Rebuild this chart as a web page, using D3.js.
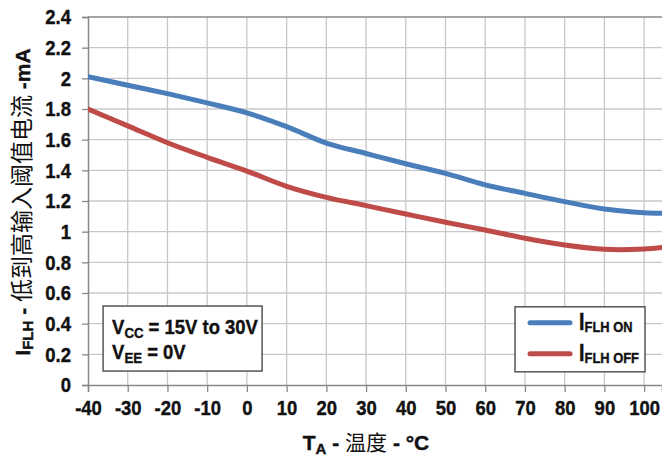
<!DOCTYPE html>
<html lang="zh">
<head>
<meta charset="UTF-8">
<title>IFLH vs TA</title>
<style>
  body { margin: 0; background: #fff; }
  svg { display: block; }
  .tick text, .lbl { font-family: "Liberation Sans", Arial, sans-serif; font-weight: bold; fill: #111; stroke: #111; stroke-width: 0.4px; }
  .tick text { font-size: 21px; }
  .cjk { font-family: "Noto Sans CJK SC", sans-serif; font-weight: normal; stroke-width: 0; }
</style>
</head>
<body>
<svg width="662" height="457"></svg>
<script src="https://d3js.org/d3.v7.min.js"></script>
<script>
  // temperature (°C)
  const temps = [-40, -30, -20, -10, 0, 10, 20, 30, 40, 50, 60, 70, 80, 90, 100, 105];
  // IFLH ON (mA)
  const iflhOn = [2.01, 1.955, 1.90, 1.84, 1.775, 1.685, 1.578, 1.51, 1.443, 1.38, 1.305, 1.25, 1.196, 1.148, 1.124, 1.12];
  // IFLH OFF (mA)
  const iflhOff = [1.80, 1.69, 1.58, 1.485, 1.395, 1.296, 1.224, 1.17, 1.115, 1.061, 1.011, 0.957, 0.913, 0.885, 0.887, 0.898];
  const xTicks = [-40, -30, -20, -10, 0, 10, 20, 30, 40, 50, 60, 70, 80, 90, 100];
  const yTicks = [0, 0.2, 0.4, 0.6, 0.8, 1, 1.2, 1.4, 1.6, 1.8, 2, 2.2, 2.4];

  const svg = d3.select("svg");
  const margin = {top: 17, right: 0, bottom: 72, left: 88};
  const width = 662 - margin.left - margin.right;
  const height = 457 - margin.top - margin.bottom;
  const g = svg.append("g").attr("transform", `translate(${margin.left},${margin.top})`);

  const x = d3.scaleLinear().domain([-40, 104.5]).range([0, width]);
  const y = d3.scaleLinear().domain([0, 2.4]).range([height, 0]);

  // squeeze text horizontally (reference uses a condensed face)
  function squeeze(sel, k) {
    sel.each(function() {
      const t = d3.select(this);
      const x0 = +(t.attr("x") || 0);
      t.attr("x", x0 / k).attr("transform", `scale(${k},1)`);
    });
  }

  // grid
  g.append("g").selectAll("line").data(xTicks.slice(1)).join("line")
    .attr("x1", d => x(d)).attr("x2", d => x(d))
    .attr("y1", 0).attr("y2", height)
    .attr("stroke", "#c8c8c8").attr("stroke-width", 1.3);
  g.append("g").selectAll("line").data(yTicks.slice(1)).join("line")
    .attr("x1", 0).attr("x2", width)
    .attr("y1", d => y(d)).attr("y2", d => y(d))
    .attr("stroke", d => d === 2.4 ? "#888" : "#c8c8c8").attr("stroke-width", 1.3);

  // axes
  const xAxis = g.append("g").attr("transform", `translate(0,${height})`)
    .call(d3.axisBottom(x).tickValues(xTicks).tickSize(7).tickPadding(7).tickFormat(d => String(d)));
  const yAxis = g.append("g")
    .call(d3.axisLeft(y).tickValues(yTicks).tickSize(6).tickPadding(11).tickFormat(d => String(d)));
  [xAxis, yAxis].forEach(a => {
    a.select(".domain").attr("stroke", "#888").attr("stroke-width", 1.5);
    a.selectAll(".tick line").attr("stroke", "#888").attr("stroke-width", 1.3);
    squeeze(a.selectAll(".tick text"), 0.88);
  });
  xAxis.selectAll(".tick text").attr("dy", "0.78em");

  // curves
  const line = d3.line().x(d => x(d[0])).y(d => y(d[1])).curve(d3.curveCatmullRom.alpha(0.5));
  const series = [
    {values: iflhOn, color: "#4a7ebb", sub: "FLH ON"},
    {values: iflhOff, color: "#be4b48", sub: "FLH OFF"}
  ];
  svg.append("clipPath").attr("id", "clip").append("rect")
    .attr("x", 0).attr("y", -5).attr("width", width).attr("height", height + 5);
  g.append("g").attr("clip-path", "url(#clip)").selectAll("path").data(series).join("path")
    .attr("fill", "none")
    .attr("stroke", d => d.color)
    .attr("stroke-width", 5)
    .attr("stroke-linecap", "round")
    .attr("d", d => line(temps.map((t, i) => [t, d.values[i]])));

  // condition box
  const cb = g.append("g").attr("transform", `translate(${x(-36.2)},${y(0.515)})`);
  cb.append("rect").attr("width", 159).attr("height", 65)
    .attr("fill", "#fff").attr("stroke", "#555").attr("stroke-width", 1.5);
  const c1 = cb.append("text").attr("class", "lbl").attr("x", 9).attr("y", 28).attr("font-size", 21);
  c1.append("tspan").text("V");
  c1.append("tspan").attr("font-size", 15).attr("dy", 4).text("CC");
  c1.append("tspan").attr("dy", -4).text(" = 15V to 30V");
  const c2 = cb.append("text").attr("class", "lbl").attr("x", 9).attr("y", 53).attr("font-size", 21);
  c2.append("tspan").text("V");
  c2.append("tspan").attr("font-size", 15).attr("dy", 4).text("EE");
  c2.append("tspan").attr("dy", -4).text(" = 0V");
  squeeze(cb.selectAll("text"), 0.88);

  // legend
  const lg = g.append("g").attr("transform", `translate(${x(67.5)},${y(0.51)})`);
  lg.append("rect").attr("width", 130).attr("height", 65)
    .attr("fill", "#fff").attr("stroke", "#555").attr("stroke-width", 1.5);
  series.forEach((s, i) => {
    const yy = 16 + i * 31;
    lg.append("line").attr("x1", 15).attr("x2", 55).attr("y1", yy).attr("y2", yy)
      .attr("stroke", s.color).attr("stroke-width", 5).attr("stroke-linecap", "round");
    const t = lg.append("text").attr("class", "lbl").attr("x", 64).attr("y", yy + 7).attr("font-size", 23);
    t.append("tspan").text("I");
    t.append("tspan").attr("font-size", 15).attr("dy", 2).text(s.sub);
  });
  squeeze(lg.selectAll("text"), 0.86);

  // x title
  const xt = svg.append("text").attr("class", "lbl").attr("x", 366).attr("y", 450)
    .attr("text-anchor", "middle").attr("font-size", 21);
  xt.append("tspan").text("T");
  xt.append("tspan").attr("font-size", 15).attr("dy", 4).text("A");
  xt.append("tspan").attr("dy", -4).text(" - ");
  xt.append("tspan").attr("class", "cjk").attr("font-size", 21).text("温度");
  xt.append("tspan").text(" - °C");

  // y title
  const yt = svg.append("text").attr("class", "lbl")
    .attr("transform", "translate(30,202) rotate(-90)")
    .attr("text-anchor", "middle").attr("font-size", 21);
  yt.append("tspan").text("I");
  yt.append("tspan").attr("font-size", 15).attr("dy", 3).text("FLH");
  yt.append("tspan").attr("dy", -3).text(" - ");
  yt.append("tspan").attr("class", "cjk").attr("font-size", 23).text("低到高输入阈值电流");
  yt.append("tspan").text(" -mA");
</script>
</body>
</html>
